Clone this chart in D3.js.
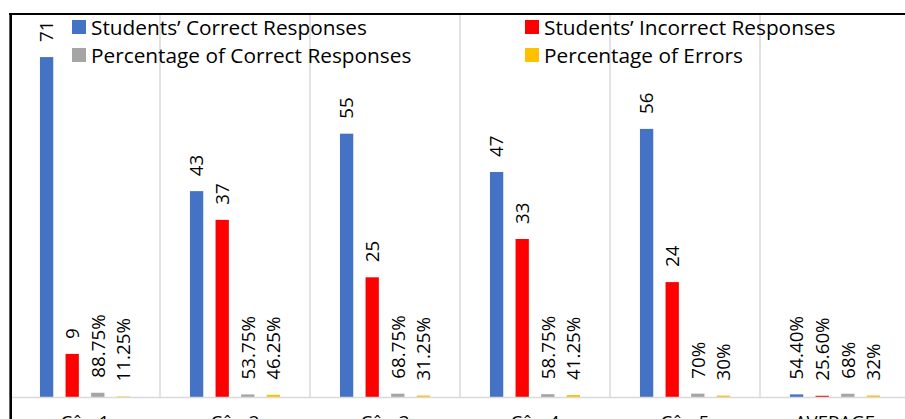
<!DOCTYPE html>
<html>
<head>
<meta charset="utf-8">
<script src="https://cdn.jsdelivr.net/npm/d3@7"></script>
<style>
  html, body { margin: 0; padding: 0; background: #fff; }
  svg { display: block; font-family: "Open Sans", Lato, sans-serif; }
</style>
</head>
<body>
<svg id="chart" width="905" height="419"></svg>
<script>
// Categories along the x axis
const categories = ["Câu 1", "Câu 2", "Câu 3", "Câu 4", "Câu 5", "AVERAGE"];

// Series values (counts for the items, fractions for percentages)
const correctResponses   = [71, 43, 55, 47, 56, 0.544];
const incorrectResponses = [9, 37, 25, 33, 24, 0.256];
const pctCorrect         = [0.8875, 0.5375, 0.6875, 0.5875, 0.70, 0.68];
const pctErrors          = [0.1125, 0.4625, 0.3125, 0.4125, 0.30, 0.32];

// Number formats for the data labels, per category
const countFormats   = ["d", "d", "d", "d", "d", ".2%"];
const percentFormats = [".2%", ".2%", ".2%", ".2%", ".0%", ".0%"];

const seriesNames = [
  "Students’ Correct Responses",
  "Students’ Incorrect Responses",
  "Percentage of Correct Responses",
  "Percentage of Errors"
];
const seriesColors = ["#4472C4", "#FF0000", "#A5A5A5", "#FFC000"];

const series = [
  { name: seriesNames[0], values: correctResponses,   formats: countFormats,   color: seriesColors[0] },
  { name: seriesNames[1], values: incorrectResponses, formats: countFormats,   color: seriesColors[1] },
  { name: seriesNames[2], values: pctCorrect,         formats: percentFormats, color: seriesColors[2] },
  { name: seriesNames[3], values: pctErrors,          formats: percentFormats, color: seriesColors[3] }
];

const svg = d3.select("#chart");
const plot = { left: 10, top: 14, bottom: 397 };

const x0 = d3.scaleBand()
  .domain(categories)
  .range([plot.left, plot.left + 150 * categories.length])
  .paddingInner(0).paddingOuter(0);

const x1 = d3.scaleBand()
  .domain(seriesNames)
  .range([0, x0.bandwidth()])
  .paddingInner(0.48)
  .paddingOuter(1.17);

const y = d3.scaleLinear().domain([0, 80]).range([plot.bottom, plot.top]);

// Category separators
svg.append("g")
  .selectAll("line")
  .data(categories.concat(["__end"]))
  .join("line")
  .attr("x1", (d, i) => plot.left + i * x0.step())
  .attr("x2", (d, i) => plot.left + i * x0.step())
  .attr("y1", plot.top)
  .attr("y2", plot.bottom)
  .attr("stroke", "#d9d9d9")
  .attr("stroke-width", 1.5);

// Bars
const groups = svg.append("g")
  .selectAll("g")
  .data(categories)
  .join("g")
  .attr("transform", d => `translate(${x0(d)},0)`);

groups.selectAll("rect")
  .data((c, ci) => series.map(s => ({ s, v: s.values[ci], ci })))
  .join("rect")
  .attr("x", d => x1(d.s.name))
  .attr("width", x1.bandwidth())
  .attr("y", d => y(d.v))
  .attr("height", d => plot.bottom - y(d.v))
  .attr("fill", d => d.s.color);

// Baseline
svg.append("line")
  .attr("x1", plot.left).attr("x2", 905)
  .attr("y1", plot.bottom + 0.5).attr("y2", plot.bottom + 0.5)
  .attr("stroke", "#d9d9d9").attr("stroke-width", 1.5);

// Data labels, rotated, above each bar
groups.selectAll("text")
  .data((c, ci) => series.map(s => ({ s, v: s.values[ci], ci })))
  .join("text")
  .attr("transform", d => `translate(${x1(d.s.name) + x1.bandwidth() / 2},${y(d.v) - 15}) rotate(-90)`)
  .attr("dy", "0.36em")
  .attr("font-size", 18.8)
  .attr("fill", "#000")
  .text(d => d3.format(d.s.formats[d.ci])(d.v));

// Category labels (below the visible frame, only their tops show)
svg.append("g")
  .selectAll("text")
  .data(categories)
  .join("text")
  .attr("x", d => x0(d) + x0.bandwidth() / 2)
  .attr("y", 429)
  .attr("text-anchor", "middle")
  .attr("font-size", 18.6)
  .attr("fill", "#000")
  .text(d => d);

// Legend
const legendPos = [[72, 27], [525, 27], [72, 55], [525, 55]];
const legend = svg.append("g")
  .selectAll("g")
  .data(series)
  .join("g")
  .attr("transform", (d, i) => `translate(${legendPos[i][0]},${legendPos[i][1]})`);
legend.append("rect")
  .attr("x", 0).attr("y", -7).attr("width", 14).attr("height", 14)
  .attr("fill", d => d.color);
legend.append("text")
  .attr("x", 19).attr("dy", "0.36em")
  .attr("font-size", 20.8)
  .attr("fill", "#000")
  .text(d => d.name);

// Chart frame
svg.append("line")
  .attr("x1", 9).attr("x2", 905).attr("y1", 14).attr("y2", 14)
  .attr("stroke", "#000").attr("stroke-width", 2);
svg.append("line")
  .attr("x1", 10.7).attr("x2", 10.7).attr("y1", 13).attr("y2", 419)
  .attr("stroke", "#000").attr("stroke-width", 2.6);
</script>
</body>
</html>
